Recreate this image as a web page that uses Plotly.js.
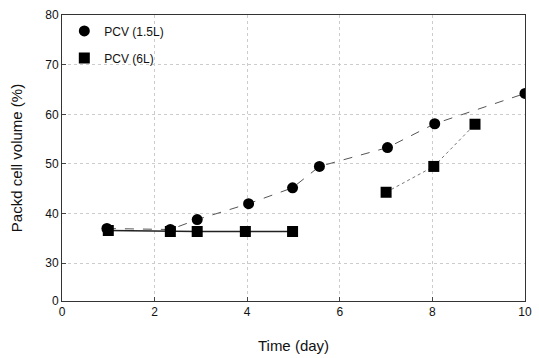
<!DOCTYPE html>
<html><head><meta charset="utf-8">
<script src="https://cdn.plot.ly/plotly-3.0.1.min.js"></script>
<style>html,body{margin:0;padding:0;background:#fff}#c{width:539px;height:358px}</style>
</head><body><div id="c"></div>
<script>
// PCV (1.5L) series
const days15 = [0.97, 2.34, 2.92, 4.03, 4.98, 5.56, 7.03, 8.05, 10.0];
const pcv15 = [37.0, 36.8, 38.8, 42.0, 45.2, 49.5, 53.3, 58.1, 64.2];
// PCV (6L) series: flat run and rising run
const days6a = [1.0, 2.34, 2.92, 3.96, 4.98];
const pcv6a = [36.6, 36.4, 36.4, 36.4, 36.4];
const days6b = [7.0, 8.03, 8.92];
const pcv6b = [44.3, 49.5, 58.0];
// y tick labels (axis is broken between 0 and 30)
const yTickVals = [22.4, 30, 40, 50, 60, 70, 80];
const yTickText = ['0', '30', '40', '50', '60', '70', '80'];
const xTickVals = [0, 2, 4, 6, 8, 10];

const font = {family: 'Liberation Sans, Arial, sans-serif', color: '#111'};
const traces = [
  // connecting lines (no legend)
  {x: days15, y: pcv15, mode: 'lines', showlegend: false, hoverinfo: 'skip',
   line: {color: '#555', width: 1, dash: 'dash'}},
  {x: days6a, y: pcv6a, mode: 'lines', showlegend: false, hoverinfo: 'skip',
   line: {color: '#222', width: 1.5}},
  {x: days6b, y: pcv6b, mode: 'lines', showlegend: false, hoverinfo: 'skip',
   line: {color: '#777', width: 1, dash: 'dot'}},
  // markers (legend)
  {x: days15, y: pcv15, name: 'PCV (1.5L)', mode: 'markers', legendgroup: 'a',
   marker: {symbol: 'circle', size: 11, color: '#000'}},
  {x: days6a.concat(days6b), y: pcv6a.concat(pcv6b), name: 'PCV (6L)', mode: 'markers', legendgroup: 'b',
   marker: {symbol: 'square', size: 11, color: '#000'}}
];
const layout = {
  width: 539, height: 358,
  margin: {l: 62, r: 14, t: 15, b: 57},
  paper_bgcolor: '#fff', plot_bgcolor: '#fff',
  font: Object.assign({size: 12}, font),
  showlegend: true,
  legend: {x: 0.005, y: 0.995, xanchor: 'left', yanchor: 'top', bgcolor: 'rgba(0,0,0,0)',
           font: Object.assign({size: 12}, font), itemwidth: 30, tracegroupgap: 8},
  xaxis: {range: [0, 10], tickvals: xTickVals, ticks: 'inside', ticklen: 4,
          showline: true, mirror: true, linecolor: '#333', linewidth: 1,
          showgrid: true, gridcolor: '#ccc', griddash: 'dot', zeroline: false,
          title: {text: 'Time (day)', font: Object.assign({size: 15}, font), standoff: 22}},
  yaxis: {range: [22.4, 80], tickvals: yTickVals, ticktext: yTickText, ticks: 'inside', ticklen: 4,
          showline: true, mirror: true, linecolor: '#333', linewidth: 1,
          showgrid: true, gridcolor: '#ccc', griddash: 'dot', zeroline: false,
          title: {text: 'Packd cell volume (%)', font: Object.assign({size: 15}, font), standoff: 18}}
};
Plotly.newPlot('c', traces, layout, {displayModeBar: false, staticPlot: true});
</script></body></html>
